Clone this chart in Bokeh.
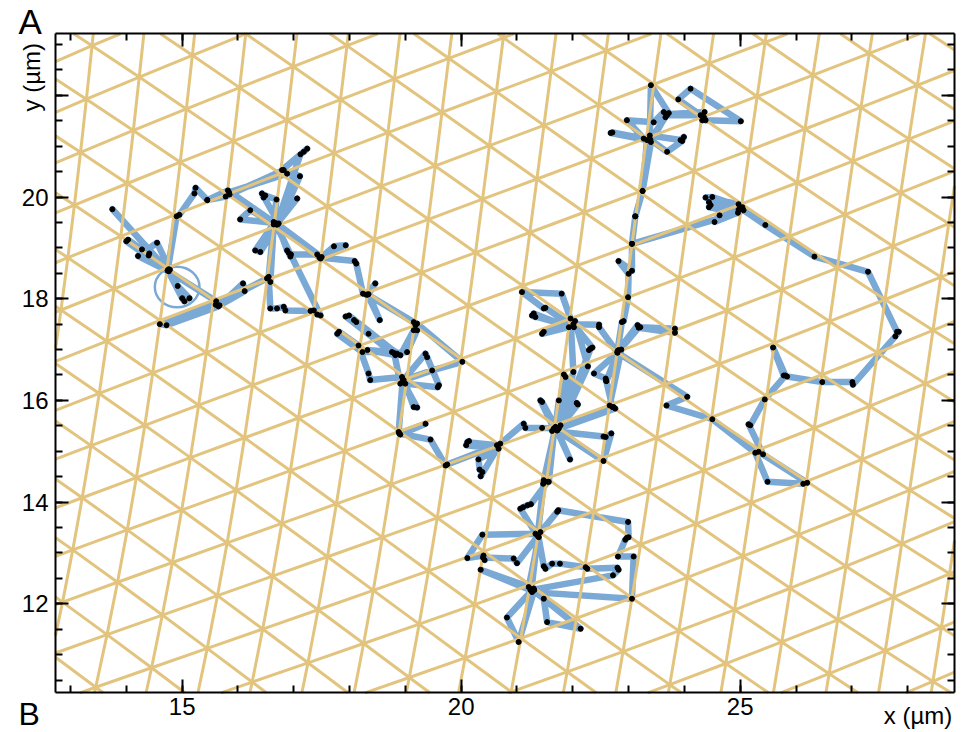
import numpy as np
from bokeh.plotting import figure
from bokeh.models import Range1d, LinearAxis, SingleIntervalTicker, FixedTicker, Label
from bokeh.embed import file_html
from bokeh.resources import INLINE

# ---------------- trajectory (µm) ----------------
seg_a_x = [15.45,15.24,15.22,14.95,14.90,14.74,15.00,15.04,15.13,14.92,
           14.75,13.75,14.76,14.00,14.03,14.76,14.28,14.41,14.40,14.78,
           14.55,14.21,14.74,15.61,14.60,14.72,15.65,16.09,16.12,15.67,
           15.60,16.52,16.58,16.64,16.55,16.58,16.70,16.82,16.85,17.30,
           17.36,17.42,17.48,16.67,15.82,15.45,15.78,15.85,16.82,16.88,
           15.84,16.69,17.12,17.18,17.24,16.79,17.11,16.73,16.43,16.46,
           16.49,16.69,16.64,17.06,16.69,16.22,16.04,16.65,16.31,16.40,
           16.71,16.88,16.91,16.94,16.95,17.42,17.48,16.69,17.50,17.72,
           17.93,17.46,18.09,18.12,18.24,18.30,18.46,18.34,18.54,18.32,
           19.15,19.18,19.21]
seg_a_y = [19.94,20.18,20.07,19.65,19.62,18.56,18.01,17.95,18.01,18.25,
           18.55,19.76,18.54,19.13,19.16,18.58,18.97,18.89,18.85,18.57,
           19.10,18.84,18.55,17.95,17.50,17.48,17.85,18.30,18.15,17.87,
           17.88,18.40,18.33,19.46,18.43,17.81,17.81,17.84,17.77,17.76,
           17.77,17.69,17.67,19.48,20.13,19.94,20.01,20.05,20.53,20.46,
           20.09,19.46,20.84,20.89,20.95,20.53,20.41,19.48,20.07,19.99,
           20.03,19.95,19.51,19.97,19.46,19.74,19.56,19.49,18.95,18.92,
           19.46,18.95,18.90,18.83,18.87,18.87,18.79,19.48,18.82,19.03,
           19.05,18.81,18.74,18.69,18.10,18.08,18.30,18.09,17.58,18.08,
           17.54,17.48,17.51]
seg_b_x = [20.02,19.48,18.97,18.94,18.37,18.34,18.16,17.81,17.78,18.23,
           18.76,18.32,18.82,17.93,17.99,18.85,18.08,18.12,18.34,18.91,
           19.15,19.21,19.03,18.80,18.91,19.36,19.39,19.60,19.58,19.00,
           19.15,19.21,18.95,18.88,18.91,19.36,18.89,19.45,19.72,19.75,
           20.64,20.11,20.14,20.09,20.67,20.31,20.33,20.38,20.35,20.70,
           21.12,21.15,21.45]
seg_b_y = [16.76,16.59,16.40,16.46,16.40,16.53,17.08,17.35,17.31,16.95,
           16.95,16.99,16.89,17.65,17.67,16.92,17.58,17.54,17.31,16.89,
           17.38,17.38,16.95,16.93,16.33,16.92,16.85,16.30,16.26,16.33,
           15.87,15.86,16.38,15.38,15.33,15.54,15.35,15.23,14.72,14.74,
           15.12,15.18,15.20,15.12,15.05,14.84,14.64,14.59,14.51,15.15,
           15.54,15.46,15.46]
seg_c_x = [21.66,21.42,21.45,21.69,21.75,22.07,22.09,21.72,21.84,21.87,
           21.75,22.01,21.96,21.80,21.09,21.48,21.51,22.02,21.27,21.33,
           21.30,21.93,21.45,21.48,22.04,22.27,21.78,22.32,22.29,22.35,
           22.01,22.47,22.47,22.80,22.38,22.59,22.60,22.87,22.66,22.73,
           22.76,21.63,22.55,22.59,22.69,22.55,21.72,21.95,21.69,21.48,
           21.47,21.55]
seg_c_y = [15.45,16.00,15.97,15.48,16.00,15.95,15.92,15.41,16.51,16.46,
           15.45,16.56,17.61,18.10,18.13,17.81,17.82,17.44,17.67,17.64,
           17.71,17.44,17.31,17.35,17.56,16.67,15.51,17.02,16.99,17.04,
           17.50,17.49,17.44,16.94,16.53,16.43,16.38,17.00,15.90,15.87,
           15.84,15.40,15.29,15.28,15.35,14.81,15.41,14.84,15.47,14.43,
           14.36,14.40]
seg_d_x = [21.25,21.19,21.11,21.06,21.36,21.42,21.72,21.74,22.99,23.00,
           22.97,22.94,22.81,23.09,23.06,21.27,21.21,21.39,21.33,20.38,
           20.11,20.40,20.42,20.39,20.94,21.00,21.38,21.48,21.51,21.63,
           21.77,22.23,22.26,22.80,22.82,22.72,21.24,20.35,21.30,20.82,
           21.03,21.31,21.48,21.54,22.14,21.26,21.48,21.57,21.67,22.71,
           22.60,22.82]
seg_d_y = [13.96,13.94,13.90,13.87,13.35,13.41,13.81,13.84,13.61,13.31,
           13.30,13.26,12.93,12.93,12.10,12.23,12.33,13.31,13.38,13.36,
           12.90,12.95,12.86,12.91,12.89,12.80,13.34,12.74,12.69,12.79,
           12.79,12.72,12.69,12.71,12.67,12.56,12.27,12.67,12.30,11.73,
           11.25,12.27,12.10,11.64,11.51,12.29,14.40,14.40,15.45,15.87,
           16.38,16.99]
seg_e_x = [23.16,23.21,23.83,23.83,23.18,22.80,24.05,23.68,24.50,25.27,
           25.49,26.13,26.20,25.33,25.41,25.15,25.18,25.44,25.81,25.59,
           25.78,25.84,26.47,27.01,27.02,27.78,27.84,27.81,27.29,26.33,
           25.45,25.01,24.97,24.38,24.50,25.04,24.44,24.47,24.97,24.63,
           24.54,25.06,24.44,24.96,23.06]
seg_e_y = [17.48,17.44,17.41,17.33,17.43,16.94,16.07,15.90,15.63,14.97,
           14.40,14.36,14.38,14.99,14.94,15.53,15.51,16.02,16.49,17.04,
           16.49,16.47,16.36,16.36,16.31,17.26,17.35,17.35,18.53,18.83,
           19.45,19.78,19.86,19.99,20.00,19.80,19.90,19.84,19.75,19.64,
           19.51,19.74,19.80,19.69,19.08]
seg_f_x = [23.12,23.25,23.33,22.68,22.71,23.27,22.97,23.45,23.63,23.72,
           23.40,23.38,23.93,23.99,23.96,23.69,23.39,23.66,23.69,24.29,
           23.89,24.11,25.01,24.38,24.35,24.32,24.36,23.68,23.40,23.25,
           23.12,23.06,23.06,22.82,23.00,22.99,22.91,22.88,22.80]
seg_f_y = [19.62,20.12,21.12,21.26,21.27,21.15,21.51,21.47,21.67,21.65,
           22.20,21.21,21.12,21.18,21.10,20.89,21.13,21.57,21.61,21.61,
           21.92,22.13,21.49,21.51,21.57,21.51,21.67,21.63,21.08,20.12,
           19.62,19.08,18.55,18.74,18.49,18.03,17.56,17.54,16.97]

circle_x, circle_y, circle_r = 14.91, 18.23, 0.40

# ---------------- lattice nodes ----------------
# index m runs along the steep lattice direction, n along the shallow one
node_m = [0, 1, 0, 0, 1, 0, -1, -1, -1, -2, -1, 1, 1, 2, 2, 2, 2, 3,
          12, 11, 11, 10, 11, 10, 10, 10, 9, 10, 9, 9, 9, 9, 8, 7, 7,
          7, 4, 3, 3, 3, 2, 4, 5, 4, 4, 4, 5, 5, 5, 5, 6, 6, 6,
          -2, -2, -3, -3, -3, -4, -4, -4, -3, -3, -4, -5, -6, -5, -4, -4, -5, -6, -5,
          8, 8, 7, 7, 6, 6, 5, 6, 5, 5, 4, 5,
          4, 4, 3, 3, 3, 3, 4, 3, 2, 2, 2, 2, 2, 1, 1, 1, 1,
          4, 4, 3, 3, 3, 2, 2, 2, 2, 2, 1, 1, 1, 1, 1, 0, 0, 0, 0, 0, -1, -1, -1, -1, -1,
          1, 0, 0, 0, -1, -1,
          8, 8, 7, 7, 6, 6, 7, 6, 6,
          7, 6, 7, 6, 6, 5, 5]
node_n = [0, 0, 1, 2, -1, -1, 1, 0, -1, 2, 2, 2, -2, -2, -1, 0, 1, -2,
          -3, -1, -2, 0, -3, -1, 1, -2, 0, -3, -1, 1, -2, -3, -1, 1, 2,
          9, 10, 11, 12, 13, 14, 9, 9, 11, 12, 13, 10, 11, 12, 13, 10, 11, 12,
          11, 10, 12, 13, 14, 15, 14, 13, 11, 10, 12, 14, 15, 13, 11, 10, 12, 14, 11,
          1, 2, 3, 4, 4, 3, 5, 2, 4, 3, 4, 2,
          5, 6, 7, 6, 5, 4, 3, 3, 4, 5, 6, 7, 3, 4, 5, 6, 7,
          7, 8, 9, 10, 8, 11, 10, 12, 13, 8, 9, 10, 11, 12, 13, 9, 10, 11, 12, 13, 10, 11, 12, 13, 9,
          8, 8, 7, 6, 7, 8,
          0, -2, -1, 0, 1, 0, -2, -1, -2,
          8, 9, 7, 7, 8, 8, 7]
node_x = [14.67, 14.81, 15.58, 16.58, 13.88, 13.66, 15.45, 14.46, 13.48, 16.27, 16.42, 16.79, 12.87, 13.02, 13.98, 15.02, 15.97, 13.18,
          13.43, 15.18, 14.21, 16.01, 13.28, 15.02, 17.03, 14.15, 15.87, 13.18, 15.00, 16.81, 14.04, 13.07, 14.91, 16.64, 17.60,
          24.44, 25.04, 25.90, 26.86, 27.87, 28.73, 24.04, 24.20, 26.02, 27.01, 28.05, 25.18, 26.20, 27.19, 28.23, 25.21, 26.29, 27.33,
          25.23, 24.25, 26.07, 26.99, 28.01, 28.84, 27.83, 26.90, 25.05, 24.02, 25.84, 27.78, 28.65, 26.77, 24.86, 23.90, 25.62, 27.77, 24.66,
          16.73, 17.72, 18.58, 19.54, 19.45, 18.46, 20.23, 17.51, 19.24, 18.34, 19.15, 17.36,
          20.05, 21.06, 21.96, 20.97, 20.02, 19.00, 18.16, 18.02, 18.88, 19.87, 20.90, 21.85, 17.90, 18.76, 19.69, 20.70, 21.67,
          22.05, 23.07, 23.90, 24.89, 22.89, 25.75, 24.77, 26.71, 27.69, 22.77, 23.69, 24.65, 25.66, 26.65, 27.54,
          23.57, 24.50, 25.45, 26.47, 27.48, 24.41, 25.33, 26.32, 27.30, 23.35,
          22.67, 22.56, 21.54, 20.56, 21.42, 22.41,
          15.84, 13.84, 14.74, 15.72, 16.58, 15.63, 13.72, 14.61, 13.63,
          23.48, 24.20, 22.53, 22.32, 23.27, 23.24, 22.20]
node_y = [11.82, 12.86, 12.12, 12.51, 12.48, 11.38, 11.12, 10.74, 10.35, 10.50, 11.46, 13.49, 12.00, 13.03, 13.46, 13.90, 14.17, 14.13,
          23.02, 22.72, 22.34, 22.18, 21.92, 21.71, 22.48, 21.35, 21.18, 20.90, 20.66, 21.54, 20.26, 19.95, 19.61, 19.41, 19.80,
          22.65, 19.87, 19.25, 19.71, 20.17, 19.49, 19.46, 20.46, 20.28, 20.72, 21.18, 20.98, 21.35, 21.74, 22.24, 21.97, 22.31, 22.75,
          13.97, 13.60, 13.39, 13.82, 14.23, 13.66, 13.22, 12.67, 12.99, 12.54, 12.29, 12.19, 11.54, 11.62, 11.93, 11.43, 11.23, 11.15, 10.71,
          20.49, 20.85, 20.21, 20.62, 19.54, 19.15, 18.87, 18.79, 18.53, 18.11, 17.53, 17.75,
          17.84, 18.26, 17.61, 17.22, 16.76, 16.46, 17.05, 16.10, 15.41, 15.77, 16.10, 16.49, 15.02, 14.59, 14.72, 15.08, 15.47,
          18.69, 19.08, 18.46, 18.83, 18.03, 18.13, 17.77, 18.55, 19.02, 16.95, 16.36, 16.72, 17.08, 17.48, 17.97,
          15.35, 15.64, 16.04, 16.40, 16.89, 14.63, 15.05, 15.45, 15.87, 14.27,
          15.93, 14.82, 14.43, 14.07, 13.48, 13.81,
          20.07, 19.18, 18.56, 18.99, 18.33, 17.94, 18.17, 17.51, 17.15,
          22.23, 21.57, 21.87, 20.79, 21.12, 20.10, 19.74]

# axis box (µm)
box_x = (12.73, 28.84)
box_y = (10.25, 23.21)

# ---------------- layout / style ----------------
FONT = "Liberation Sans"
GRID_C = "#e2c47e"
PATH_C = "#7aa9d5"
W, H = 980, 732
ML, MR, MT, MB = 55.0, 26.0, 33.3, 39.7           # px around the axis box
ux = (box_x[1] - box_x[0]) / (W - ML - MR)        # µm per px
uy = (box_y[1] - box_y[0]) / (H - MT - MB)

traj_x = seg_a_x + seg_b_x + seg_c_x + seg_d_x + seg_e_x + seg_f_x
traj_y = seg_a_y + seg_b_y + seg_c_y + seg_d_y + seg_e_y + seg_f_y

p = figure(width=W, height=H,
           x_range=Range1d(box_x[0] - ML * ux, box_x[1] + MR * ux),
           y_range=Range1d(box_y[0] - MB * uy, box_y[1] + MT * uy),
           output_backend="svg", toolbar_location=None, min_border=0)
p.title.visible = False
p.grid.visible = False
p.outline_line_color = None
p.background_fill_color = "white"

yt_major = FixedTicker(ticks=[12, 14, 16, 18, 20], minor_ticks=list(np.arange(10.5, 23.01, 0.5)))
xt = SingleIntervalTicker(interval=5, num_minor_ticks=5)
yt = SingleIntervalTicker(interval=2, num_minor_ticks=4)

p.xaxis.ticker = xt
p.yaxis.ticker = yt_major
p.xaxis.fixed_location = box_y[0]
p.yaxis.fixed_location = box_x[0]
p.xaxis.bounds = box_x
p.yaxis.bounds = box_y
p.add_layout(LinearAxis(ticker=yt, fixed_location=box_x[1], bounds=box_y), "right")
p.add_layout(LinearAxis(ticker=xt, fixed_location=box_y[1], bounds=box_x), "above")
extra = LinearAxis(ticker=FixedTicker(ticks=[22], minor_ticks=[]), fixed_location=box_x[0], bounds=box_y)
p.add_layout(extra, "left")

for ax in p.axis:
    ax.axis_line_width = 2
    ax.axis_line_color = "black"
    ax.major_tick_in = 13
    ax.major_tick_out = 0
    ax.minor_tick_in = 7
    ax.minor_tick_out = 0
    ax.major_tick_line_width = 2
    ax.minor_tick_line_width = 2
    ax.major_tick_line_color = "black"
    ax.minor_tick_line_color = "black"
    ax.major_label_text_font = FONT
    ax.major_label_text_font_size = "24px"
    ax.major_label_text_color = "black"
for ax in p.right + p.above + [extra]:
    ax.major_label_text_color = None
extra.axis_line_color = None
extra.minor_tick_line_color = None
p.yaxis[0].major_label_standoff = 7
p.xaxis[0].major_label_standoff = 18

# trajectory (below the lattice)
p.line(traj_x, traj_y, line_color=PATH_C, line_width=6.5, line_join="round", line_cap="round")
p.ellipse(x=[circle_x], y=[circle_y], width=2 * circle_r, height=2 * circle_r,
          fill_color=None, line_color=PATH_C, line_width=2.5)

# lattice: smooth cubic map (m, n) -> position fitted to the read nodes
M = np.array(node_m, float)
N = np.array(node_n, float)


def basis(m, n):
    m = np.asarray(m, float)
    n = np.asarray(n, float)
    return np.stack([np.ones_like(m), m, n, m * m, m * n, n * n,
                     m ** 3, m * m * n, m * n * n, n ** 3], axis=-1)


cx = np.linalg.lstsq(basis(M, N), np.array(node_x), rcond=None)[0]
cy = np.linalg.lstsq(basis(M, N), np.array(node_y), rcond=None)[0]


def node(m, n):
    B = basis(m, n)
    return B @ cx, B @ cy


def clip(x0, y0, x1, y1):
    dx, dy = x1 - x0, y1 - y0
    t0, t1 = 0.0, 1.0
    for pp, q in ((-dx, x0 - box_x[0]), (dx, box_x[1] - x0), (-dy, y0 - box_y[0]), (dy, box_y[1] - y0)):
        if pp == 0:
            if q < 0:
                return None
        else:
            t = q / pp
            if pp < 0:
                if t > t1:
                    return None
                t0 = max(t0, t)
            else:
                if t < t0:
                    return None
                t1 = min(t1, t)
    return x0 + t0 * dx, y0 + t0 * dy, x0 + t1 * dx, y0 + t1 * dy


gx, gy = [], []


def add_poly(xs, ys):
    rx, ry = [], []
    for i in range(len(xs) - 1):
        c = clip(xs[i], ys[i], xs[i + 1], ys[i + 1])
        if c is None:
            if len(rx) > 1:
                gx.append(rx); gy.append(ry)
            rx, ry = [], []
            continue
        a, b, c2, d = c
        if rx and (abs(rx[-1] - a) > 1e-9 or abs(ry[-1] - b) > 1e-9):
            gx.append(rx); gy.append(ry)
            rx, ry = [], []
        if not rx:
            rx, ry = [a], [b]
        rx.append(c2); ry.append(d)
    if len(rx) > 1:
        gx.append(rx); gy.append(ry)


ms = np.arange(-10, 16)
ns = np.arange(-7, 20)
for n in ns:
    add_poly(*node(ms, np.full(len(ms), n)))
for m in ms:
    add_poly(*node(np.full(len(ns), m), ns))
for k in range(-20, 38):
    nn = k - ms
    keep = (nn >= ns[0]) & (nn <= ns[-1])
    if keep.sum() > 1:
        add_poly(*node(ms[keep], nn[keep]))

p.multi_line(gx, gy, line_color=GRID_C, line_width=3)

p.scatter(traj_x, traj_y, size=5, color="black")

# texts
common = dict(text_font=FONT, text_color="black")
p.add_layout(Label(x=box_x[0] - 24.5 * ux, y=box_y[1] - 43.4 * uy, text="y (µm)", angle=np.pi / 2,
                   text_align="center", text_baseline="middle", text_font_size="24px", **common))
p.add_layout(Label(x=box_x[1] - 2.3 * ux, y=box_y[0] - 22.9 * uy, text="x (µm)",
                   text_align="right", text_baseline="middle", text_font_size="24px", **common))
p.add_layout(Label(x=box_x[0] - 37 * ux, y=box_y[1] + 12.1 * uy, text="A",
                   text_align="left", text_baseline="middle", text_font_size="35px", **common))
p.add_layout(Label(x=box_x[0] - 37 * ux, y=box_y[0] - 38.7 * uy, text="B",
                   text_align="left", text_baseline="bottom", text_font_size="32px", **common))

open("out.html", "w").write(file_html(p, INLINE))
